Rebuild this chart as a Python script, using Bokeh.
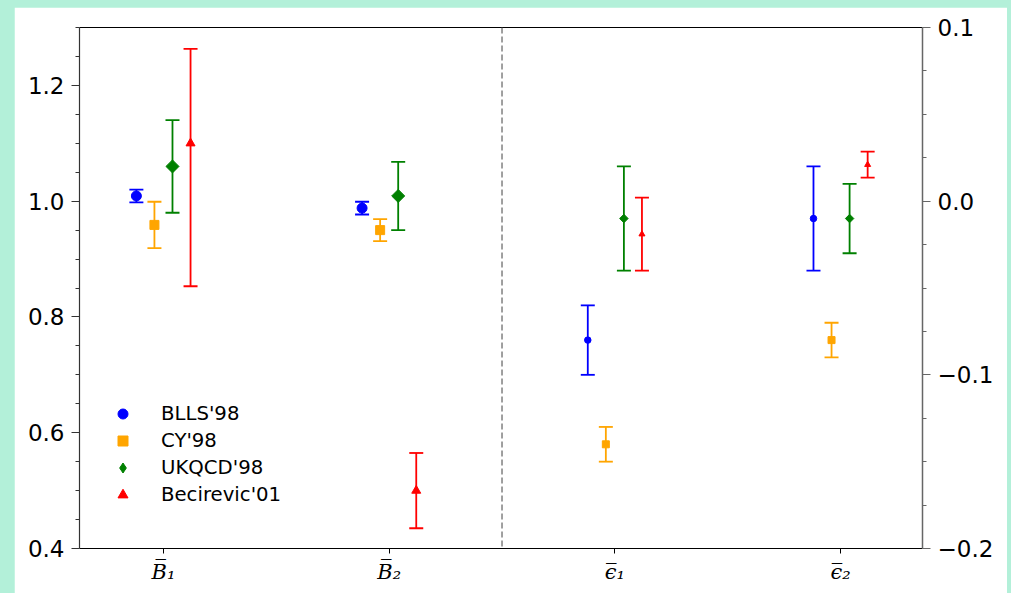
import math
from bokeh.plotting import figure
from bokeh.models import (Range1d, LinearAxis, FixedTicker, CustomJSTickFormatter,
                          Span, Legend, LegendItem)
from bokeh.layouts import column
from bokeh.embed import file_html
from bokeh.resources import INLINE

# ---------------- data ----------------
categories = ["B\u0305\u2081", "B\u0305\u2082", "\u03f5\u0305\u2081", "\u03f5\u0305\u2082"]
series = ["BLLS'98", "CY'98", "UKQCD'98", "Becirevic'01"]
colors = ["blue", "orange", "green", "red"]
markers = ["circle", "square", "square", "triangle"]
legend_markers = ["circle", "square", "diamond", "triangle"]
marker_angles = [0.0, 0.0, math.pi / 4, 0.0]

# B parameters (left axis) : [B1, B2]
blls_B = [1.009, 0.988]
blls_B_up = [0.011, 0.011]
blls_B_lo = [0.011, 0.011]
cy_B = [0.959, 0.950]
cy_B_up = [0.040, 0.019]
cy_B_lo = [0.040, 0.019]
ukqcd_B = [1.060, 1.009]
ukqcd_B_up = [0.080, 0.059]
ukqcd_B_lo = [0.080, 0.059]
bec_B = [1.100, 0.500]
bec_B_up = [0.163, 0.065]
bec_B_lo = [0.247, 0.065]

# epsilon parameters (right axis) : [eps1, eps2]
blls_e = [-0.080, -0.010]
blls_e_up = [0.020, 0.030]
blls_e_lo = [0.020, 0.030]
cy_e = [-0.140, -0.080]
cy_e_up = [0.010, 0.010]
cy_e_lo = [0.010, 0.010]
ukqcd_e = [-0.010, -0.010]
ukqcd_e_up = [0.030, 0.020]
ukqcd_e_lo = [0.030, 0.020]
bec_e = [-0.019, 0.021]
bec_e_up = [0.021, 0.0075]
bec_e_lo = [0.021, 0.0075]

B_vals = [blls_B, cy_B, ukqcd_B, bec_B]
B_up = [blls_B_up, cy_B_up, ukqcd_B_up, bec_B_up]
B_lo = [blls_B_lo, cy_B_lo, ukqcd_B_lo, bec_B_lo]
E_vals = [blls_e, cy_e, ukqcd_e, bec_e]
E_up = [blls_e_up, cy_e_up, ukqcd_e_up, bec_e_up]
E_lo = [blls_e_lo, cy_e_lo, ukqcd_e_lo, bec_e_lo]

B_pos = [0, 1]
E_pos = [2, 3]
offsets = [-0.12, -0.04, 0.04, 0.12]

B_left_ticks = [0.4, 0.6, 0.8, 1.0, 1.2]
B_left_minor = [0.45, 0.5, 0.55, 0.65, 0.7, 0.75, 0.85, 0.9, 0.95, 1.05, 1.1, 1.15, 1.25, 1.3]
E_right_ticks = [-0.2, -0.1, 0.0, 0.1]
E_right_minor = [-0.175, -0.15, -0.125, -0.075, -0.05, -0.025, 0.025, 0.05, 0.075]

# ---------------- figure ----------------
MINT = "#b3f0d9"
p = figure(width=993, height=586,
           x_range=Range1d(-0.372, 3.363), y_range=Range1d(0.4, 1.3),
           output_backend="svg", toolbar_location=None,
           min_border_left=65, min_border_right=85,
           min_border_top=20, min_border_bottom=45)
p.extra_y_ranges = {"eps": Range1d(-0.2, 0.1)}
p.xgrid.visible = False
p.ygrid.visible = False
p.outline_line_color = None
p.background_fill_color = "white"
p.border_fill_color = "white"

TICK_FONT = "23px"

# bottom axis
xa = p.xaxis[0]
xa.ticker = FixedTicker(ticks=[0, 1, 2, 3])
xa.major_label_overrides = {i: c for i, c in enumerate(categories)}
xa.major_label_text_font = "DejaVu Serif"
xa.major_label_text_font_style = "italic"
xa.major_label_text_font_size = "21px"
xa.major_label_text_color = "black"
xa.axis_line_color = "black"
xa.axis_line_width = 1.2
xa.major_tick_line_color = "black"
xa.major_tick_in = 0
xa.major_tick_out = 5
xa.minor_tick_line_color = None
xa.major_label_standoff = 6

# left axis
ya = p.yaxis[0]
ya.ticker = FixedTicker(ticks=B_left_ticks, minor_ticks=B_left_minor)
ya.formatter = CustomJSTickFormatter(code="return tick.toFixed(1);")
ya.major_label_text_font = "DejaVu Sans"
ya.major_label_text_font_size = TICK_FONT
ya.major_label_text_color = "black"
ya.axis_line_color = "#333333"
ya.axis_line_width = 1.2
ya.major_tick_line_color = "#333333"
ya.minor_tick_line_color = "#333333"
ya.major_tick_in = 0
ya.major_tick_out = 8
ya.minor_tick_in = 0
ya.minor_tick_out = 4
ya.major_label_standoff = 7

# right axis
ra = LinearAxis(y_range_name="eps",
                ticker=FixedTicker(ticks=E_right_ticks, minor_ticks=E_right_minor),
                formatter=CustomJSTickFormatter(
                    code="return (tick < -1e-9 ? '\u2212' : '') + Math.abs(tick).toFixed(1);"))
ra.major_label_text_font = "DejaVu Sans"
ra.major_label_text_font_size = TICK_FONT
ra.major_label_text_color = "black"
ra.axis_line_color = "#666666"
ra.axis_line_width = 1.5
ra.major_tick_line_color = "#666666"
ra.minor_tick_line_color = "#666666"
ra.major_tick_in = 0
ra.major_tick_out = 8
ra.minor_tick_in = 0
ra.minor_tick_out = 4
ra.major_label_standoff = 7
p.add_layout(ra, "right")

# top spine (no ticks, no labels)
ta = LinearAxis(ticker=FixedTicker(ticks=[]), major_tick_line_color=None,
                minor_tick_line_color=None, axis_line_color="black",
                axis_line_width=1.2)
p.add_layout(ta, "above")

# separator
p.add_layout(Span(location=1.5, dimension="height", line_color="gray",
                  line_width=1.5, line_dash="6 3"))

LW = 1.8
CAP = 14
big_size = [10, 9, 9.2, 9]
small_size = [6.5, 7, 6, 6]

legend_items = []
for k in range(4):
    # B section (left axis)
    xs = [B_pos[j] + offsets[k] for j in range(2)]
    hi = [B_vals[k][j] + B_up[k][j] for j in range(2)]
    lo = [B_vals[k][j] - B_lo[k][j] for j in range(2)]
    p.segment(x0=xs, y0=lo, x1=xs, y1=hi, line_color=colors[k], line_width=LW)
    p.scatter(x=xs + xs, y=hi + lo, marker="dash", size=CAP, line_color=colors[k],
              line_width=LW, angle=0)
    p.scatter(x=xs, y=B_vals[k], marker=markers[k], size=big_size[k],
              angle=marker_angles[k],
              fill_color=colors[k], line_color=colors[k])

    # hidden twin of the B markers, used only for the legend symbol shape
    lr = p.scatter(x=xs, y=B_vals[k], marker=legend_markers[k],
                   fill_color=colors[k], line_color=colors[k], visible=False)
    legend_items.append(LegendItem(label=series[k], renderers=[lr]))

    # epsilon section (right axis)
    xs = [E_pos[j] + offsets[k] for j in range(2)]
    hi = [E_vals[k][j] + E_up[k][j] for j in range(2)]
    lo = [E_vals[k][j] - E_lo[k][j] for j in range(2)]
    p.segment(x0=xs, y0=lo, x1=xs, y1=hi, line_color=colors[k], line_width=LW,
              y_range_name="eps")
    p.scatter(x=xs + xs, y=hi + lo, marker="dash", size=CAP, line_color=colors[k],
              line_width=LW, angle=0, y_range_name="eps")
    p.scatter(x=xs, y=E_vals[k], marker=markers[k], size=small_size[k],
              angle=marker_angles[k],
              fill_color=colors[k], line_color=colors[k], y_range_name="eps")

legend = Legend(items=legend_items, location=(21, 30),
                label_text_font="DejaVu Sans", label_text_font_size="19.7px",
                label_text_color="black",
                glyph_width=25, glyph_height=27, label_height=27,
                label_standoff=26, spacing=0, padding=10,
                border_line_alpha=0, background_fill_alpha=0,
                inactive_fill_alpha=0)
p.add_layout(legend)

layout = column(p, styles={"background-color": MINT, "padding-left": "14px",
                           "padding-top": "7px", "padding-right": "4px"})

open("out.html", "w").write(file_html(layout, INLINE))
